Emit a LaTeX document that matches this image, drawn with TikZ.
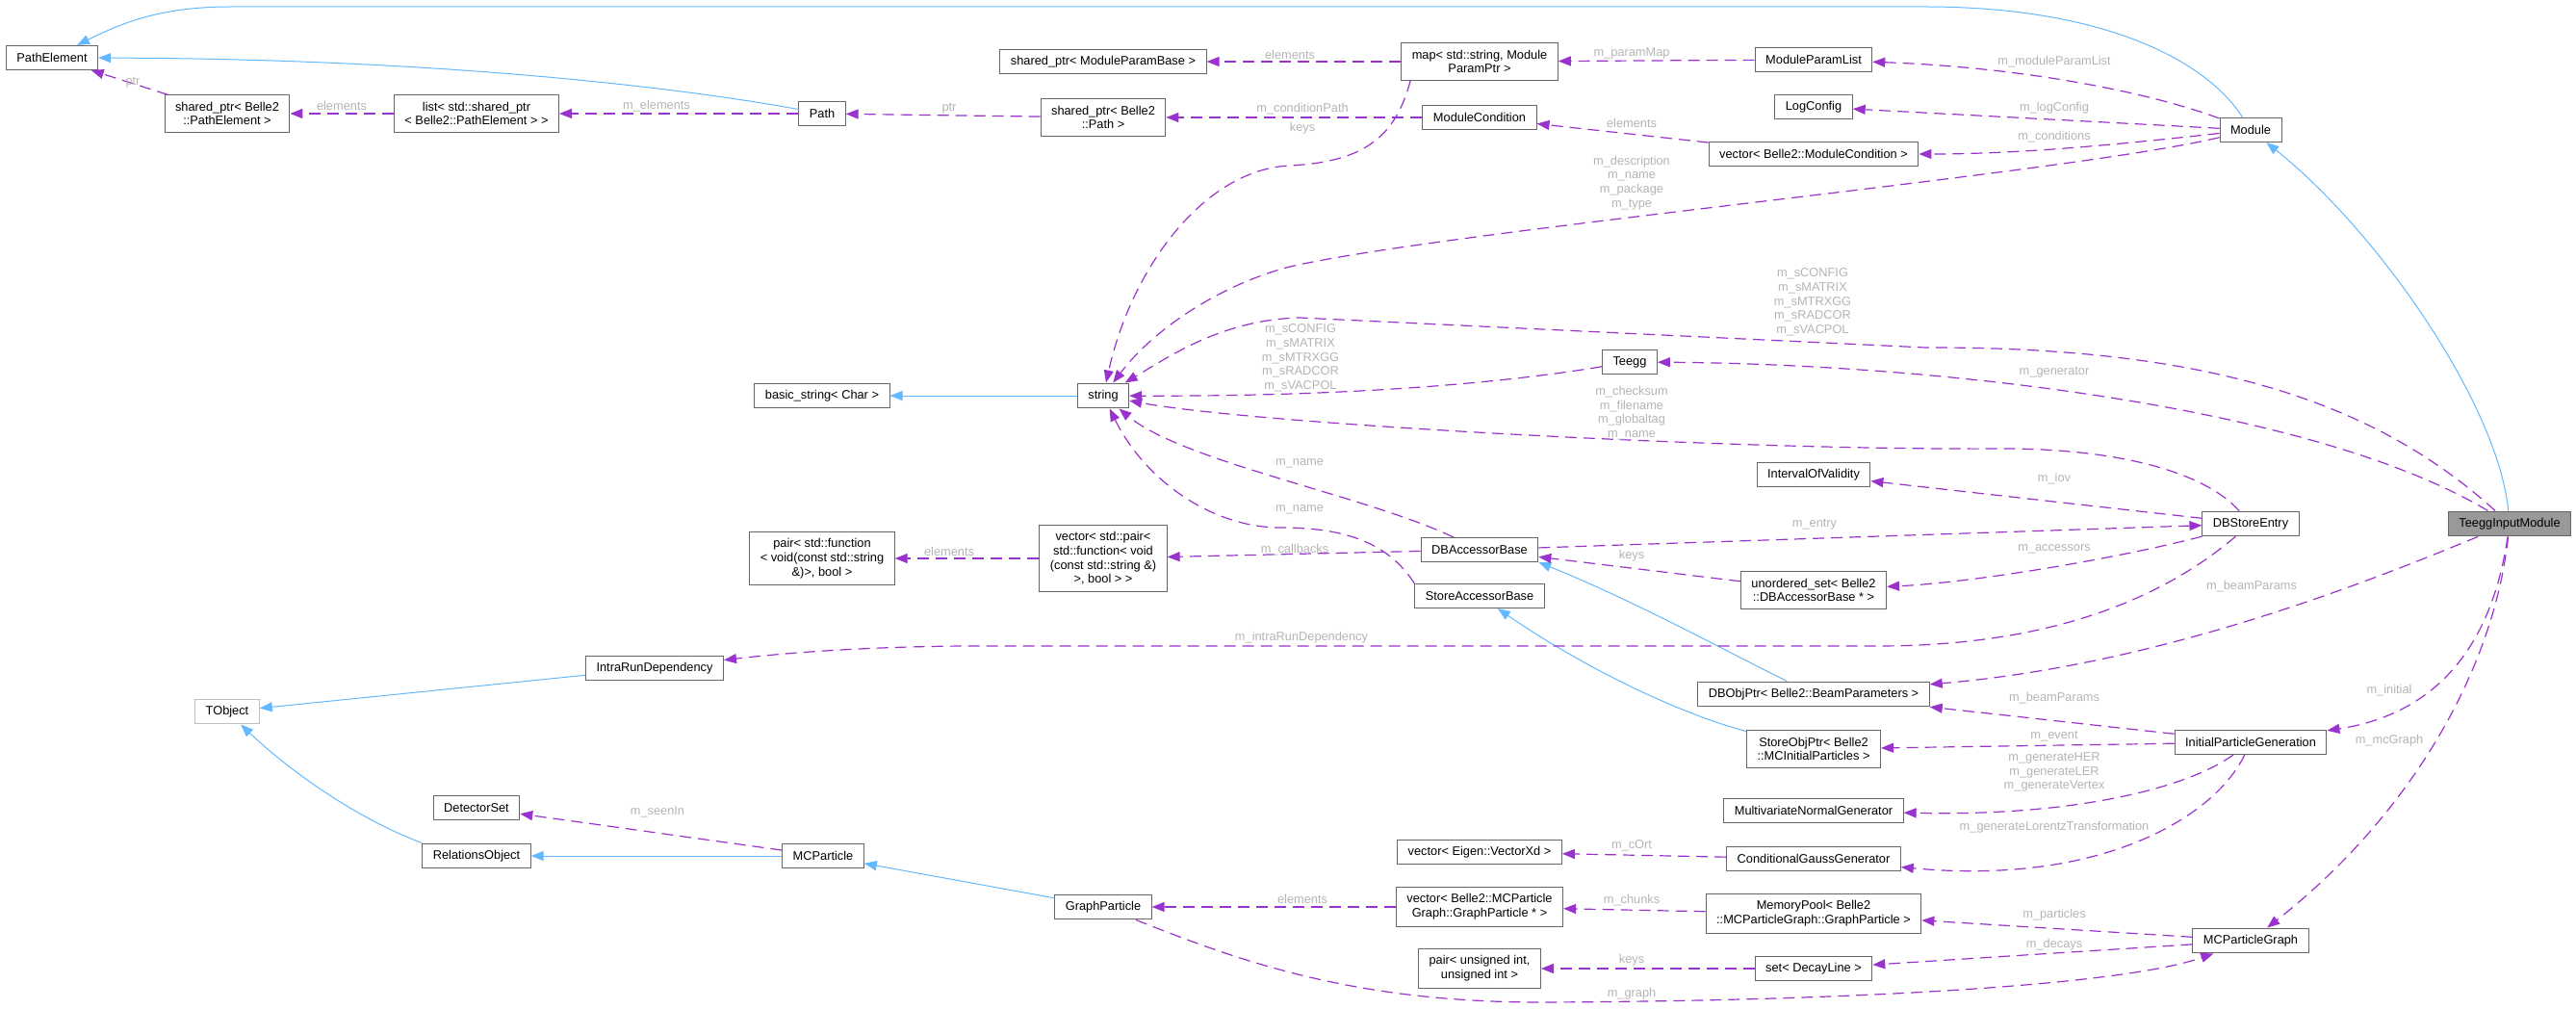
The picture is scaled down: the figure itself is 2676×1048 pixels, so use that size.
\documentclass[tikz,border=0pt]{standalone}
\usepackage{fontspec}
\setmainfont{Liberation Sans}
\usetikzlibrary{arrows.meta}
\definecolor{edgeblue}{HTML}{63B8FF}
\definecolor{edgepurple}{HTML}{9A32CD}
\definecolor{boxgray}{HTML}{666666}
\definecolor{lightbox}{HTML}{BFBFBF}
\definecolor{labelgray}{HTML}{B4B4B4}
\definecolor{mainfill}{HTML}{999999}

\begin{document}
\begin{tikzpicture}[x=1pt, y=-1pt,
    cls/.style={draw=boxgray, line width=1pt, fill=white, align=center,
      font=\fontsize{12.8}{14.7}\selectfont, inner xsep=11pt, inner ysep=7pt, minimum height=25pt},
    extcls/.style={cls, draw=lightbox},
    maincls/.style={cls, fill=mainfill},
    lbl/.style={text=labelgray, align=center, inner sep=0pt, font=\fontsize{12.8}{14.7}\selectfont},
    inheritEdge/.style={draw=edgeblue, line width=1pt, -{Triangle[length=13pt,width=10pt]}},
    memberEdge/.style={draw=edgepurple, line width=1.2pt, dash pattern=on 12pt off 7pt,
      -{Triangle[length=13pt,width=10pt]}}]
  \useasboundingbox (0,0) rectangle (2676,1048);

  % Path and module classes
  \node[cls] (pathElement) at (54,60) {PathElement};
  \node[cls] (spPathElement) at (236,118) {shared\_ptr< Belle2\\::PathElement >};
  \node[cls] (listPathElement) at (495,118) {list< std::shared\_ptr\\< Belle2::PathElement > >};
  \node[cls] (path) at (854,118) {Path};
  \node[cls] (spParamBase) at (1146,64) {shared\_ptr< ModuleParamBase >};
  \node[cls] (spPath) at (1146,122) {shared\_ptr< Belle2\\::Path >};
  \node[cls] (paramMap) at (1537,64) {map< std::string, Module\\ParamPtr >};
  \node[cls] (moduleCondition) at (1537,122) {ModuleCondition};
  \node[cls] (paramList) at (1884,62) {ModuleParamList};
  \node[cls] (logConfig) at (1884,111) {LogConfig};
  \node[cls] (conditionVec) at (1884,160) {vector< Belle2::ModuleCondition >};
  \node[cls] (module) at (2338,135) {Module};

  % String and database classes
  \node[cls] (basicString) at (854,411) {basic\_string< Char >};
  \node[cls] (string) at (1146,411) {string};
  \node[cls] (teegg) at (1693,376) {Teegg};
  \node[cls] (iov) at (1884,493) {IntervalOfValidity};
  \node[cls] (dbStoreEntry) at (2338,544) {DBStoreEntry};
  \node[maincls] (teeggInput) at (2607,544) {TeeggInputModule};
  \node[cls] (callbackPair) at (854,580) {pair< std::function\\< void(const std::string\\\&)>, bool >};
  \node[cls] (callbackVec) at (1146,580) {vector< std::pair<\\std::function< void\\(const std::string \&)\\>, bool > >};
  \node[cls] (dbAccessor) at (1537,571) {DBAccessorBase};
  \node[cls] (storeAccessor) at (1537,619) {StoreAccessorBase};
  \node[cls] (accessorSet) at (1884,613) {unordered\_set< Belle2\\::DBAccessorBase * >};
  \node[cls] (intraRun) at (680,694) {IntraRunDependency};

  % Generator and particle classes
  \node[extcls] (tObject) at (236,739) {TObject};
  \node[cls] (beamParams) at (1884,721) {DBObjPtr< Belle2::BeamParameters >};
  \node[cls] (initialParticles) at (1884,778) {StoreObjPtr< Belle2\\::MCInitialParticles >};
  \node[cls] (initialGen) at (2338,771) {InitialParticleGeneration};
  \node[cls] (normalGen) at (1884,842) {MultivariateNormalGenerator};
  \node[cls] (detectorSet) at (495,839) {DetectorSet};
  \node[cls] (relationsObject) at (495,889) {RelationsObject};
  \node[cls] (mcParticle) at (855,889) {MCParticle};
  \node[cls] (eigenVec) at (1537,885) {vector< Eigen::VectorXd >};
  \node[cls] (gaussGen) at (1884,892) {ConditionalGaussGenerator};
  \node[cls] (graphParticle) at (1146,942) {GraphParticle};
  \node[cls] (graphParticleVec) at (1537,942) {vector< Belle2::MCParticle\\Graph::GraphParticle * >};
  \node[cls] (memoryPool) at (1884,949) {MemoryPool< Belle2\\::MCParticleGraph::GraphParticle >};
  \node[cls] (mcGraph) at (2338,977) {MCParticleGraph};
  \node[cls] (uintPair) at (1537,1006) {pair< unsigned int,\\unsigned int >};
  \node[cls] (decaySet) at (1884,1006) {set< DecayLine >};

  % Inheritance
  \draw[inheritEdge] (module) .. controls (2290,60) and (2180,7) .. (2000,7) -- (240,7) .. controls (170,7) and (130,22) .. (pathElement);
  \draw[inheritEdge] (path) .. controls (700,90) and (450,61) .. (pathElement);
  \draw[inheritEdge] (string) -- (basicString);
  \draw[inheritEdge] (intraRun) -- (tObject);
  \draw[inheritEdge] (relationsObject.north west) .. controls (370,850) and (300,800) .. (tObject);
  \draw[inheritEdge] (mcParticle) -- (relationsObject);
  \draw[inheritEdge] (graphParticle) -- (mcParticle);
  \draw[inheritEdge] (beamParams) .. controls (1800,680) and (1700,625) .. (dbAccessor.south east);
  \draw[inheritEdge] (initialParticles) .. controls (1740,740) and (1640,690) .. (storeAccessor);
  \draw[inheritEdge] (teeggInput) .. controls (2595,420) and (2470,240) .. (module);

  % Members
  \draw[memberEdge] (spPathElement) -- (pathElement);
  \draw[memberEdge] (listPathElement) -- (spPathElement);
  \draw[memberEdge] (path) -- (listPathElement);
  \draw[memberEdge] (spPath) -- (path);
  \draw[memberEdge] (paramMap) -- (spParamBase);
  \draw[memberEdge] ([xshift=10pt]paramMap.south west) .. controls (1450,140) and (1420,168) .. (1340,172) .. controls (1250,176) and (1175,280) .. (string);
  \draw[memberEdge] (moduleCondition) -- (spPath);
  \draw[memberEdge] (paramList) -- (paramMap);
  \draw[memberEdge] (conditionVec) -- (moduleCondition);
  \draw[memberEdge] (module) .. controls (2230,95) and (2100,70) .. (paramList);
  \draw[memberEdge] (module) -- (logConfig);
  \draw[memberEdge] (module) .. controls (2200,150) and (2100,160) .. (conditionVec);
  \draw[memberEdge] (module) .. controls (2150,180) and (1500,240) .. (1340,277) .. controls (1270,295) and (1200,340) .. (string);
  \draw[memberEdge] (teeggInput) .. controls (2470,420) and (2300,360) .. (2000,361) -- (1350,330) .. controls (1270,332) and (1215,370) .. (string);
  \draw[memberEdge] (teegg) .. controls (1560,398) and (1400,412) .. (string);
  \draw[memberEdge] (teeggInput) .. controls (2400,420) and (2000,378) .. (teegg);
  \draw[memberEdge] (dbStoreEntry) .. controls (2290,490) and (2200,466) .. (2080,466) .. controls (1800,468) and (1300,440) .. (string);
  \draw[memberEdge] (dbAccessor) .. controls (1420,515) and (1230,480) .. (string);
  \draw[memberEdge] (storeAccessor.north west) .. controls (1440,560) and (1390,548) .. (1330,548) .. controls (1260,548) and (1190,500) .. (string);
  \draw[memberEdge] (dbAccessor) -- (callbackVec);
  \draw[memberEdge] (callbackVec) -- (callbackPair);
  \draw[memberEdge] (dbStoreEntry) -- (iov);
  \draw[memberEdge] (dbAccessor) -- (dbStoreEntry);
  \draw[memberEdge] (accessorSet) -- (dbAccessor);
  \draw[memberEdge] (dbStoreEntry) .. controls (2200,580) and (2050,605) .. (accessorSet);
  \draw[memberEdge] (dbStoreEntry) .. controls (2260,610) and (2150,671) .. (1950,671) -- (1000,671) .. controls (880,672) and (800,680) .. (intraRun);
  \draw[memberEdge] (teeggInput) .. controls (2470,600) and (2250,690) .. (beamParams);
  \draw[memberEdge] (initialGen) -- (beamParams);
  \draw[memberEdge] (initialGen) -- (initialParticles);
  \draw[memberEdge] (initialGen) .. controls (2270,820) and (2150,848) .. (normalGen);
  \draw[memberEdge] (initialGen) .. controls (2300,850) and (2180,920) .. (gaussGen);
  \draw[memberEdge] (teeggInput) .. controls (2590,660) and (2540,740) .. (initialGen);
  \draw[memberEdge] (teeggInput) .. controls (2590,700) and (2500,850) .. (mcGraph);
  \draw[memberEdge] (gaussGen) -- (eigenVec);
  \draw[memberEdge] (mcParticle) -- (detectorSet);
  \draw[memberEdge] (graphParticleVec) -- (graphParticle);
  \draw[memberEdge] (memoryPool) -- (graphParticleVec);
  \draw[memberEdge] (mcGraph) -- (memoryPool);
  \draw[memberEdge] (mcGraph) -- (decaySet);
  \draw[memberEdge] (decaySet) -- (uintPair);
  \draw[memberEdge] (graphParticle) .. controls (1280,995) and (1400,1041) .. (1600,1041) .. controls (1900,1040) and (2200,1025) .. (mcGraph);

  % Member labels
  \node[lbl] (lblPtrA) at (138,86) {ptr};
  \node[lbl] (lblElemA) at (355,110) {elements};
  \node[lbl] (lblElements) at (682,110) {m\_elements};
  \node[lbl] (lblPtrB) at (986,113) {ptr};
  \node[lbl] (lblElemB) at (1340,57) {elements};
  \node[lbl] (lblCondPath) at (1353,113) {m\_conditionPath};
  \node[lbl] (lblKeysA) at (1353,133) {keys};
  \node[lbl] (lblParamMap) at (1695,55) {m\_paramMap};
  \node[lbl] (lblElemC) at (1695,128) {elements};
  \node[lbl] (lblParamList) at (2134,64) {m\_moduleParamList};
  \node[lbl] (lblLogConfig) at (2134,112) {m\_logConfig};
  \node[lbl] (lblConditions) at (2134,142) {m\_conditions};
  \node[lbl] (lblDescription) at (1695,190) {m\_description\\m\_name\\m\_package\\m\_type};
  \node[lbl] (lblSettingsA) at (1883,314) {m\_sCONFIG\\m\_sMATRIX\\m\_sMTRXGG\\m\_sRADCOR\\m\_sVACPOL};
  \node[lbl] (lblSettingsB) at (1351,372) {m\_sCONFIG\\m\_sMATRIX\\m\_sMTRXGG\\m\_sRADCOR\\m\_sVACPOL};
  \node[lbl] (lblGenerator) at (2134,387) {m\_generator};
  \node[lbl] (lblChecksum) at (1695,429) {m\_checksum\\m\_filename\\m\_globaltag\\m\_name};
  \node[lbl] (lblNameA) at (1350,481) {m\_name};
  \node[lbl] (lblIov) at (2134,497) {m\_iov};
  \node[lbl] (lblNameB) at (1350,529) {m\_name};
  \node[lbl] (lblEntry) at (1885,545) {m\_entry};
  \node[lbl] (lblAccessors) at (2134,570) {m\_accessors};
  \node[lbl] (lblCallbacks) at (1345,571) {m\_callbacks};
  \node[lbl] (lblElemD) at (986,573) {elements};
  \node[lbl] (lblKeysB) at (1695,577) {keys};
  \node[lbl] (lblBeamA) at (2339,609) {m\_beamParams};
  \node[lbl] (lblIntraRun) at (1352,662) {m\_intraRunDependency};
  \node[lbl] (lblInitial) at (2482,717) {m\_initial};
  \node[lbl] (lblBeamB) at (2134,725) {m\_beamParams};
  \node[lbl] (lblEvent) at (2134,765) {m\_event};
  \node[lbl] (lblMcGraph) at (2482,769) {m\_mcGraph};
  \node[lbl] (lblGenerate) at (2134,802) {m\_generateHER\\m\_generateLER\\m\_generateVertex};
  \node[lbl] (lblSeenIn) at (683,843) {m\_seenIn};
  \node[lbl] (lblLorentz) at (2134,859) {m\_generateLorentzTransformation};
  \node[lbl] (lblCOrt) at (1695,878) {m\_cOrt};
  \node[lbl] (lblElemE) at (1353,934) {elements};
  \node[lbl] (lblChunks) at (1695,935) {m\_chunks};
  \node[lbl] (lblParticles) at (2134,950) {m\_particles};
  \node[lbl] (lblDecays) at (2134,981) {m\_decays};
  \node[lbl] (lblKeysC) at (1695,997) {keys};
  \node[lbl] (lblGraph) at (1695,1032) {m\_graph};
\end{tikzpicture}
\end{document}
